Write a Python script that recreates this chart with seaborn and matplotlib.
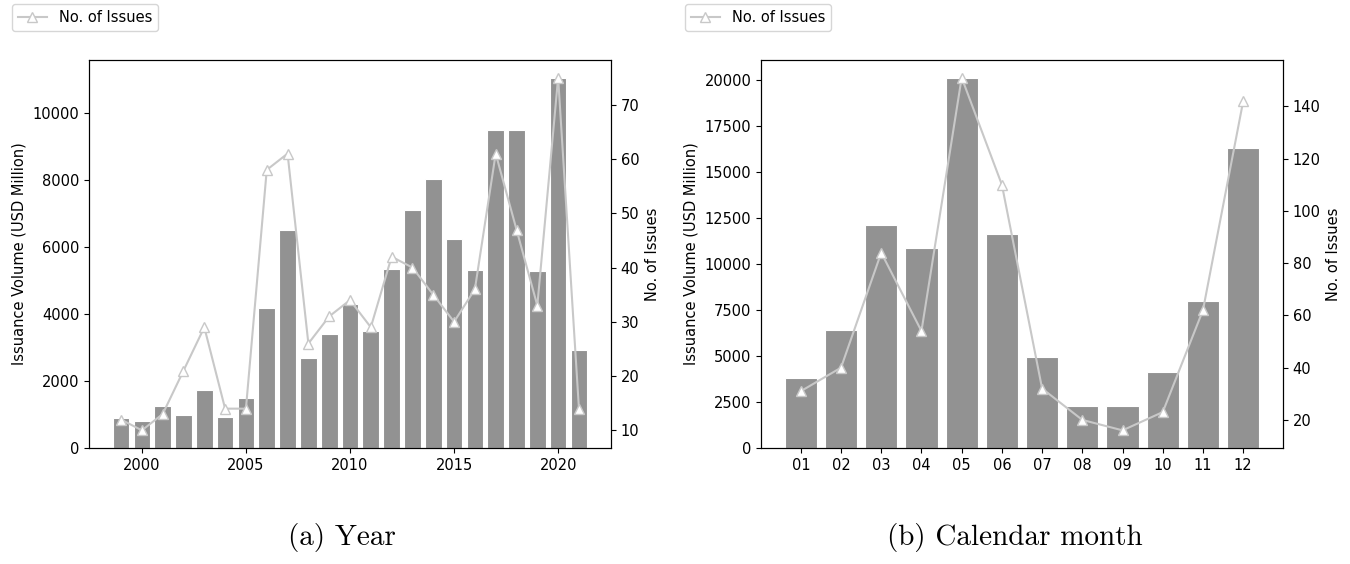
import numpy as np
import matplotlib
matplotlib.use("Agg")
import matplotlib.pyplot as plt
import seaborn as sns

### DATOS ###
# (a) por año
years = list(range(1999, 2022))
volume_year = [880, 800, 1260, 980, 1730, 910, 1500, 4190, 6510, 2680, 3390, 4300,
               3490, 5350, 7110, 8020, 6220, 5300, 9470, 9490, 5290, 11020, 2920]
issues_year = [12, 10, 13, 21, 29, 14, 14, 58, 61, 26, 31, 34,
               29, 42, 40, 35, 30, 36, 61, 47, 33, 75, 14]

# (b) por mes
months = ["01", "02", "03", "04", "05", "06", "07", "08", "09", "10", "11", "12"]
volume_month = [3830, 6430, 12140, 10890, 20090, 11650, 4930, 2270, 2300, 4110, 7990, 16310]
issues_month = [31, 40, 84, 54, 151, 110, 32, 20, 16, 23, 62, 142]

bar_color = "#929292"
line_color = "#c8c8c8"
captions = ["(a) Year", "(b) Calendar month"]

plt.rcParams["font.size"] = 10.5

fig = plt.figure(figsize=(13.5, 5.64), dpi=100)
ax1 = fig.add_axes([89 / 1350, 1 - 448 / 564, 522 / 1350, 388 / 564])
ax3 = fig.add_axes([761 / 1350, 1 - 448 / 564, 522 / 1350, 388 / 564])

### GRÁFICO (a) ###
sns.barplot(x=years, y=volume_year, native_scale=True, color=bar_color,
            saturation=1, edgecolor="white", linewidth=0.8, ax=ax1)
ax1.set_xlim(1997.46, 2022.54)
ax1.set_xticks([2000, 2005, 2010, 2015, 2020])
ax1.set_ylabel("Issuance Volume (USD Million)")
ax2 = ax1.twinx()
sns.lineplot(x=years, y=issues_year, color=line_color, marker="^", markersize=7.5,
             markerfacecolor="white", markeredgecolor=line_color, markeredgewidth=1,
             label="No. of Issues", legend=False, ax=ax2)
ax2.set_ylabel("No. of Issues")

### GRÁFICO (b) ###
sns.barplot(x=months, y=volume_month, order=months, color=bar_color,
            saturation=1, edgecolor="white", linewidth=0.8, ax=ax3)
ax3.set_xlim(-0.99, 11.99)
ax3.set_ylabel("Issuance Volume (USD Million)")
ax4 = ax3.twinx()
sns.lineplot(x=np.arange(len(months)), y=issues_month, color=line_color, marker="^",
             markersize=7.5, markerfacecolor="white", markeredgecolor=line_color,
             markeredgewidth=1, label="No. of Issues", legend=False, ax=ax4)
ax4.set_ylabel("No. of Issues")

# Leyendas arriba a la izquierda de cada figura
for ax, x0 in [(ax2, 12), (ax4, 685)]:
    h, l = ax.get_legend_handles_labels()
    fig.legend(h, l, loc="upper left", bbox_to_anchor=(x0 / 1350, 1 - 4 / 564),
               borderaxespad=0)

# Títulos de las subfiguras
fig.text(0.253, 1 - 538 / 564, captions[0], ha="center", va="center",
         fontsize=21, family=["cmr10", "DejaVu Serif"])
fig.text(0.752, 1 - 538 / 564, captions[1], ha="center", va="center",
         fontsize=21, family=["cmr10", "DejaVu Serif"])

fig.savefig("out.png", dpi=100)
